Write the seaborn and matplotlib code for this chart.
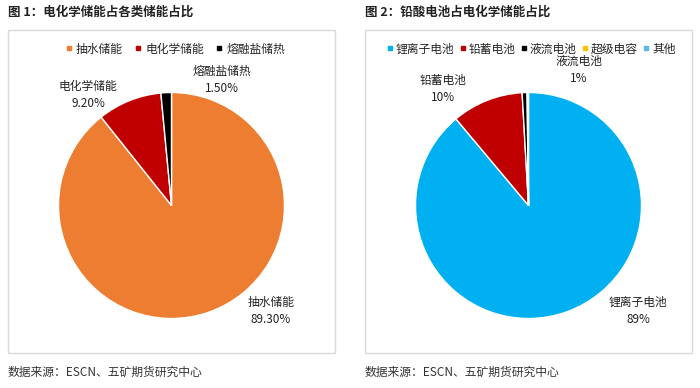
import numpy as np
import matplotlib
matplotlib.use("Agg")
import matplotlib.pyplot as plt
import seaborn as sns
from matplotlib.patches import Rectangle
from matplotlib.lines import Line2D

# left chart: share of each storage type
left_names = ["抽水储能", "电化学储能", "熔融盐储热"]
left_values = [89.3, 9.2, 1.5]
left_colors = ["#ED7D31", "#C00000", "#000000"]

# right chart: share inside electrochemical storage
right_names = ["锂离子电池", "铅蓄电池", "液流电池", "超级电容", "其他"]
right_values = [88.9, 10.2, 0.7, 0.1, 0.1]
right_colors = ["#00B0F0", "#C00000", "#000000", "#FFC000", "#5BB8E0"]

titles = ["图 1：电化学储能占各类储能占比", "图 2：铅酸电池占电化学储能占比"]
source = "数据来源：ESCN、五矿期货研究中心"

sns.set_theme(style="white")
plt.rcParams["font.family"] = ["Noto Sans CJK SC", "DejaVu Sans"]

W, H = 700, 388
fig = plt.figure(figsize=(7, 3.88), dpi=100)


def px_axes(x0, y0, x1, y1):
    # pixel box (top-left origin) -> figure axes
    return fig.add_axes([x0 / W, 1 - y1 / H, (x1 - x0) / W, (y1 - y0) / H])


def draw_panel(box, center, radius, names, values, colors, fmt, label_pos, title,
               legend_x, colspace, textpad):
    bx0, by0, bx1, by1 = box
    fig.patches.append(Rectangle((bx0 / W, 1 - by1 / H), (bx1 - bx0) / W, (by1 - by0) / H,
                                 transform=fig.transFigure, fill=False,
                                 edgecolor="#D9D9D9", lw=1.0))
    fig.text(bx0 / W, 1 - 12 / H, title, fontsize=9, fontweight="bold",
             va="center", ha="left", color="#222222")
    fig.text(bx0 / W, 1 - 372 / H, source, fontsize=8.5, va="center", ha="left",
             color="#333333")

    ax = px_axes(bx0 + 2, 60, bx1 - 2, by1 - 2)
    cx, cy = center
    ax.pie(values, colors=colors, startangle=90, counterclock=False,
           radius=1.0, wedgeprops=dict(edgecolor="white", linewidth=1.0))
    ax.set_xlim((bx0 + 2 - cx) / radius, (bx1 - 2 - cx) / radius)
    ax.set_ylim((cy - (by1 - 2)) / radius, (cy - 60) / radius)
    ax.set_aspect("auto")
    ax.axis("off")

    for i, (lx, ly) in label_pos.items():
        ax.text((lx - cx) / radius, (cy - ly) / radius,
                names[i] + "\n" + fmt.format(values[i]),
                ha="center", va="center", fontsize=8.5, color="#222222",
                linespacing=1.45)

    handles = [Line2D([], [], marker="s", linestyle="", markersize=3.2,
                      markerfacecolor=c, markeredgecolor=c) for c in colors]
    fig.legend(handles, names, loc="center", bbox_to_anchor=(legend_x / W, 1 - 49 / H),
               ncol=len(names), frameon=False, fontsize=8.5, handlelength=0.6,
               handletextpad=textpad, columnspacing=colspace, borderpad=0)


draw_panel((8, 30, 335, 353), (171.5, 205.5), 113, left_names, left_values, left_colors,
           "{:.2f}%", {0: (271, 311), 1: (88, 95), 2: (222, 80)},
           titles[0], 175, 1.0, 0.3)
draw_panel((365, 30, 692, 353), (528.5, 205.5), 113, right_names, right_values, right_colors,
           "{:.0f}%", {0: (638, 311), 1: (443, 89), 2: (579, 70)},
           titles[1], 531, 0.4, 0.2)

fig.savefig("out.png", dpi=100, facecolor="white")
